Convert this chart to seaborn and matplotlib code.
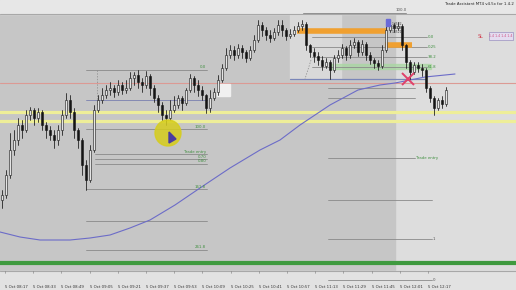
import matplotlib
matplotlib.use("Agg")
import matplotlib.pyplot as plt
import matplotlib.patches as mpatches
import numpy as np
import pandas as pd
import seaborn as sns

sns.set_theme(style="white")
plt.rcParams["font.family"] = ["DejaVu Sans"]

# ---------------- data (price units) ----------------
first_open = 90
closes = [95, 115, 140, 150, 165, 160, 175, 180, 172, 178, 165, 160, 155, 150, 160, 175,
          190, 178, 160, 150, 125, 110, 140, 180, 190, 195, 200, 202, 198, 205, 200, 202,
          212, 215, 208, 205, 214, 202, 192, 185, 175, 172, 180, 185, 192, 187, 200, 212,
          205, 200, 195, 182, 192, 198, 210, 222, 235, 240, 235, 242, 238, 232, 240, 250,
          265, 260, 255, 252, 258, 265, 260, 254, 256, 260, 264, 266, 245, 238, 234, 230,
          224, 228, 220, 232, 235, 242, 235, 245, 248, 238, 246, 235, 230, 227, 224, 240,
          260, 265, 262, 264, 245, 228, 218, 225, 222, 220, 202, 192, 182, 190, 186, 200]
highs = [100, 120, 157, 160, 172, 170, 180, 183, 182, 182, 180, 168, 164, 160, 165, 180,
         197, 195, 182, 162, 152, 130, 145, 185, 195, 202, 205, 208, 205, 210, 208, 210,
         218, 218, 220, 212, 219, 216, 205, 195, 188, 180, 190, 194, 195, 194, 202, 216,
         214, 210, 204, 196, 200, 202, 215, 226, 242, 245, 244, 246, 245, 240, 244, 255,
         270, 268, 263, 260, 262, 270, 270, 262, 261, 264, 268, 270, 268, 246, 242, 238,
         234, 232, 230, 235, 240, 246, 244, 250, 252, 250, 250, 248, 238, 232, 230, 245,
         265, 270, 267, 268, 266, 246, 230, 228, 228, 226, 222, 204, 194, 192, 194, 203]
lows = [82, 92, 112, 135, 145, 152, 158, 170, 165, 168, 160, 152, 150, 142, 145, 155,
        172, 172, 152, 142, 115, 100, 108, 138, 178, 187, 192, 195, 193, 195, 196, 197,
        200, 205, 202, 198, 202, 195, 188, 178, 170, 165, 170, 178, 182, 180, 185, 198,
        198, 194, 190, 177, 178, 190, 195, 208, 220, 232, 230, 232, 232, 228, 230, 238,
        248, 254, 250, 248, 250, 255, 254, 250, 252, 254, 258, 260, 240, 233, 228, 225,
        220, 222, 211, 218, 228, 232, 230, 232, 242, 234, 235, 230, 226, 222, 220, 222,
        238, 258, 258, 260, 240, 222, 211, 216, 218, 214, 198, 188, 175, 180, 182, 184]

ma_x = [0, 20, 40, 70, 90, 110, 130, 150, 175, 200, 230, 260, 280, 300, 330, 358, 380, 395, 425, 455]
ma_y = [58, 53, 50, 50, 52, 55, 62, 70, 85, 102, 122, 140, 150, 165, 185, 200, 205, 207, 213, 216]

tick_labels = ["5 Oct 08:17", "5 Oct 08:33", "5 Oct 08:49", "5 Oct 09:05", "5 Oct 09:21",
               "5 Oct 09:37", "5 Oct 09:53", "5 Oct 10:09", "5 Oct 10:25", "5 Oct 10:41",
               "5 Oct 10:57", "5 Oct 11:13", "5 Oct 11:29", "5 Oct 11:45", "5 Oct 12:01",
               "5 Oct 12:17"]

red_level = 207
yellow_levels = [178, 169]
green_level = 27.5

left_fib_levels = [220, 190, 161, 136, 131, 126, 101, 69, 40]
left_fib_labels = ["0.0", "", "100.0", "Trade entry", "0.70", "0.80", "161.8", "", "261.8"]
right_fib_levels = [132, 90, 51, 10]
right_fib_labels = ["Trade entry", "", "1", "0"]
upper_fib_levels = [253, 243, 233, 223]
upper_fib_labels = ["0.0", "0.25", "38.2", "61.8"]
upper_extra_levels = [202, 192]

# ---------------- figure ----------------
W, H = 516, 290
fig = plt.figure(figsize=(W / 100, H / 100), dpi=100)
fig.patch.set_facecolor("#dddddd")
ax = fig.add_axes([0, 0, 1, 1])
ax.set_xlim(0, W)
ax.set_ylim(0, H)
ax.axis("off")

# background regions
ax.add_patch(mpatches.Rectangle((0, 19), 395, 257, color="#c6c6c6", zorder=0))
ax.add_patch(mpatches.Rectangle((290, 211), 51, 65, color="#d9d9d9", zorder=0.1))
ax.add_patch(mpatches.Rectangle((0, 276.5), W, 13.5, color="#e7e7e7", zorder=0.2))
ax.axhline(276.5, color="#a8a8a8", lw=0.8, zorder=0.3)
ax.add_patch(mpatches.Rectangle((0, 0), W, 19, color="#e2e2e2", zorder=0.2))
ax.axhline(19, color="#a8a8a8", lw=0.8, zorder=0.3)

# horizontal levels
ax.axhline(red_level, color="#dc9a94", lw=0.8, zorder=1)
for lv in yellow_levels:
    ax.axhline(lv, color="#eeee98", lw=2.3, zorder=1)
ax.axhline(green_level, color="#3f9a3f", lw=3, zorder=1)

fib_col = "#8a8a8a"
lab_col = "#3f8f3f"
for lv, lab in zip(left_fib_levels, left_fib_labels):
    x0 = 95 if lab in ("Trade entry", "0.70", "0.80") else 86
    c = "#7a80b0" if lv == 190 else fib_col
    ax.plot([x0, 207], [lv, lv], color=c, lw=0.6, zorder=1.5)
    if lab:
        ax.text(206, lv + 0.5, lab, fontsize=2.8, color=lab_col, ha="right", va="bottom", zorder=3)
for lv, lab in zip(right_fib_levels, right_fib_labels):
    x1 = 415 if len(lab) > 1 else 432
    ax.plot([328, x1], [lv, lv], color=fib_col, lw=0.6, zorder=1.5)
    if lab:
        ax.text(x1 + 1, lv, lab, fontsize=2.8, color=lab_col if len(lab) > 1 else "#555555",
                ha="left", va="center", zorder=3)
ax.add_patch(mpatches.Rectangle((331, 221), 100, 5, color="#a8d8a0", alpha=0.7, zorder=1.4))
for lv, lab in zip(upper_fib_levels, upper_fib_labels):
    ax.plot([312, 427], [lv, lv], color=fib_col, lw=0.6, zorder=1.5)
    ax.text(428, lv, lab, fontsize=2.8, color=lab_col, ha="left", va="center", zorder=3)
for lv in upper_extra_levels:
    ax.plot([328, 415], [lv, lv], color=fib_col, lw=0.6, zorder=1.5)

# box lines
ax.plot([303, 406], [277, 277], color="#909090", lw=0.7, zorder=1.5)
ax.text(401, 280, "100.0", fontsize=2.8, color="#555555", ha="center", va="center", zorder=3)
ax.plot([290, 425], [211, 211], color="#7a86b8", lw=0.9, zorder=1.5)

# orange zones
ax.plot([297, 386], [259, 259], color="#f0a030", lw=4, solid_capstyle="butt", zorder=2)
ax.plot([385, 412], [245, 245], color="#f0a030", lw=4, solid_capstyle="butt", zorder=2)

# dashed verticals
ax.plot([97, 97], [220, 185], color="#888888", lw=0.5, ls=(0, (2, 2)), zorder=1.5)
ax.plot([311, 305], [230, 211], color="#888888", lw=0.5, ls=(0, (2, 2)), zorder=1.5)

# white rectangle
ax.add_patch(mpatches.Rectangle((217, 194), 13, 12, color="#f0f0f0", zorder=1.6))

# moving average via seaborn
ma_df = pd.DataFrame({"t": ma_x, "v": ma_y})
sns.lineplot(data=ma_df, x="t", y="v", ax=ax, sort=False, color="#6c6cc8", lw=0.8, zorder=2)
ax.set_xlim(0, W)
ax.set_ylim(0, H)
ax.axis("off")

# candles
opens = [first_open] + closes[:-1]
xs = [2 + 4 * i for i in range(len(closes))]
for x, o, c, h, l in zip(xs, opens, closes, highs, lows):
    ax.plot([x, x], [min(l, o, c), max(h, o, c)], color="#151515", lw=0.55, zorder=4)
    bottom = min(o, c)
    height = max(abs(c - o), 0.8)
    fc = "#e4e4e4" if c > o else "#151515"
    ax.add_patch(mpatches.Rectangle((x - 1.1, bottom), 2.2, height, facecolor=fc,
                                    edgecolor="#151515", lw=0.4, zorder=5))

# markers
ax.add_patch(mpatches.Circle((168, 157), 13, color="#d6cd1c", alpha=0.85, zorder=6))
ax.add_patch(mpatches.Polygon([[169, 158], [169, 147], [176, 151]], closed=True,
                              color="#4a3ca0", zorder=7))
ax.plot([408], [211], marker="x", ms=8, mew=1.4, color="#e0406a", zorder=7)
ax.add_patch(mpatches.Rectangle((386, 264), 3.5, 7, color="#6a6ad8", zorder=6))
for k, lab in enumerate(["1.4532", "1.4528", "1.4521"]):
    ax.text(392, 266 - 4 * k, lab, fontsize=2.2, color="#444444", ha="left", va="center", zorder=6)

# SL panel
ax.text(481, 253, "SL", fontsize=3.5, color="#d04050", ha="center", va="center")
ax.add_patch(mpatches.Rectangle((489, 250), 24, 8, facecolor="#e4dcf0", edgecolor="#9a90c0",
                                lw=0.5, zorder=3))
ax.text(501, 254, "1.4 1.4 1.4 1.4", fontsize=2.3, color="#d05080", ha="center", va="center", zorder=4)

# top right title
ax.text(514, 286, "Trade Assistant MT4 v4.5x for 1.4.2", fontsize=2.8, color="#222222",
        ha="right", va="center")

# x tick labels
for k, lab in enumerate(tick_labels):
    xp = 5 + 28.2 * k
    ax.plot([xp, xp], [19, 17], color="#777777", lw=0.4)
    ax.text(xp, 3, lab, fontsize=2.8, color="#333333", ha="left", va="center")

fig.savefig("out.png", dpi=100, facecolor=fig.get_facecolor())
